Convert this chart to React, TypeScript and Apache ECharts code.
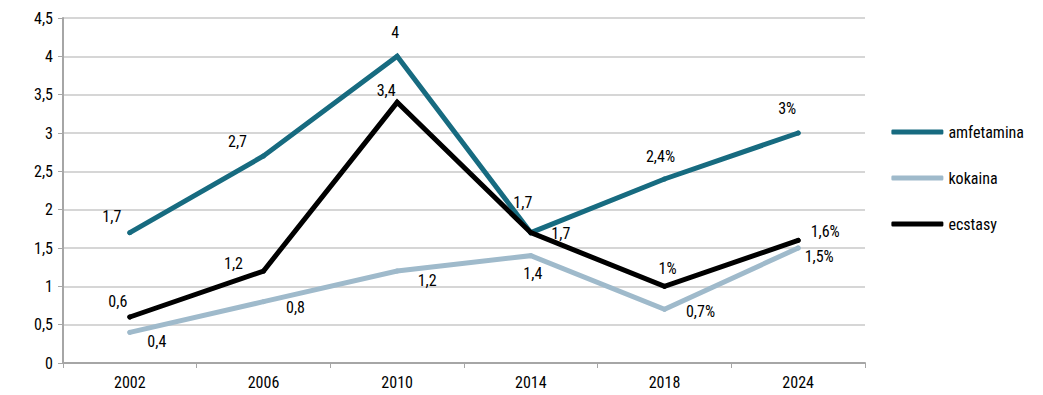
import React, { useEffect, useRef } from "react";
import * as echarts from "echarts";

const years = ["2002", "2006", "2010", "2014", "2018", "2024"];
const amfetamina = [1.7, 2.7, 4, 1.7, 2.4, 3];
const kokaina = [0.4, 0.8, 1.2, 1.4, 0.7, 1.5];
const ecstasy = [0.6, 1.2, 3.4, 1.7, 1.0, 1.6];
const amfLabels = ["1,7", "2,7", "4", "1,7", "2,4%", "3%"];
const kokLabels = ["0,4", "0,8", "1,2", "1,4", "0,7%", "1,5%"];
const ecsLabels = ["0,6", "1,2", "3,4", "1,7", "1%", "1,6%"];

const amfOffsets = [[-18, -1], [-26, 1], [-2, -8], [-8, -15], [-4, -7], [-11, -9]];
const kokOffsets = [[27, 25], [32, 21], [30, 25], [2, 33], [36, 18], [21, 24]];
const ecsOffsets = [[-12, 0], [-30, 8], [-11, 4], [30, 16], [3, -2], [27, 7]];

const FONT = "'Liberation Sans Narrow', 'Roboto Condensed', Roboto, sans-serif";

function makeSeries(name: string, data: number[], labels: string[], offsets: number[][], color: string, z: number) {
  return {
    name,
    type: "line",
    z,
    symbol: "circle",
    symbolSize: 5,
    showSymbol: true,
    lineStyle: { color, width: 5, cap: "round", join: "miter" },
    itemStyle: { color },
    data: data.map((v, i) => ({
      value: v,
      label: {
        show: true,
        position: "top",
        offset: offsets[i],
        formatter: labels[i],
        color: "#000",
        fontSize: 16,
        fontFamily: FONT,
      },
    })),
  };
}

export default function App() {
  const ref = useRef<HTMLDivElement>(null);
  useEffect(() => {
    const chart = echarts.init(ref.current!, null, { renderer: "svg" });
    chart.setOption({
      animation: false,
      grid: { left: 63, right: 178, top: 18, bottom: 32 },
      legend: {
        orient: "vertical",
        right: 14,
        top: 119,
        itemWidth: 52,
        itemHeight: 5,
        itemGap: 30,
        icon: "roundRect",
        textStyle: { fontSize: 16, fontFamily: FONT, color: "#000", padding: [0, 0, 0, 0] },
        data: ["amfetamina", "kokaina", "ecstasy"],
      },
      xAxis: {
        type: "category",
        data: years,
        boundaryGap: true,
        axisLine: { lineStyle: { color: "#a6a6a6", width: 2 } },
        axisTick: { show: true, length: 5, lineStyle: { color: "#a6a6a6", width: 1 } },
        axisLabel: { color: "#000", fontSize: 16, fontFamily: FONT, margin: 11 },
      },
      yAxis: {
        type: "value",
        min: 0,
        max: 4.5,
        interval: 0.5,
        axisLine: { show: true, lineStyle: { color: "#a6a6a6", width: 2 } },
        axisTick: { show: true, length: 5, lineStyle: { color: "#a6a6a6" } },
        splitLine: { lineStyle: { color: "#c8c8c8", width: 1.5 } },
        axisLabel: {
          color: "#000",
          fontSize: 16,
          fontFamily: FONT,
          margin: 10,
          formatter: (v: number) => String(v).replace(".", ","),
        },
      },
      series: [
        makeSeries("kokaina", kokaina, kokLabels, kokOffsets, "#9fbacb", 2),
        makeSeries("amfetamina", amfetamina, amfLabels, amfOffsets, "#176b80", 3),
        makeSeries("ecstasy", ecstasy, ecsLabels, ecsOffsets, "#000000", 4),
      ],
    });
    return () => chart.dispose();
  }, []);
  return <div ref={ref} style={{ width: 1043, height: 395, position: "absolute", left: 0, top: 0 }} />;
}
